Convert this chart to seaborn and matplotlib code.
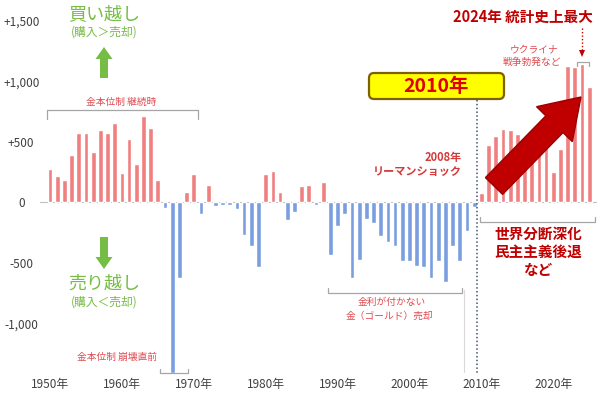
import matplotlib
matplotlib.use("Agg")
import matplotlib.pyplot as plt
import matplotlib.transforms as mtransforms
from matplotlib.lines import Line2D
from matplotlib.patches import FancyArrow, FancyBboxPatch
import seaborn as sns
import pandas as pd
import numpy as np

# net central bank gold purchases (tonnes)
years = list(range(1950, 2026))
tonnes = [280, 215, 182, 394, 578, 578, 421, 595, 578, 659,
          245, 521, 314, 713, 617, 182, -45, -1410, -625, 83,
          235, -93, 144, -27, -25, -20, -55, -267, -363, -537,
          235, 264, 86, -143, -83, 138, 146, -25, 168, -432,
          -198, -96, -625, -474, -137, -170, -275, -327, -363, -482,
          -482, -523, -537, -625, -482, -661, -363, -488, -240, -34,
          79, 474, 548, 609, 598, 562, 390, 380, 650, 600,
          250, 440, 1127, 1120, 1143, 955]
decade_ticks = [1950, 1960, 1970, 1980, 1990, 2000, 2010, 2020]
y_ticks = [-1000, -500, 0, 500, 1000, 1500]
y_labels = ["-1,000", "-500", "0", "+500", "+1,000", "+1,500"]

sns.set_style("white")
plt.rcParams['font.family'] = ['Noto Sans CJK JP', 'DejaVu Sans']

df = pd.DataFrame({"year": years, "tonnes": tonnes})
df["side"] = np.where(df["tonnes"] >= 0, "buy", "sell")

fig = plt.figure(figsize=(6, 3.94), dpi=100)
ax = fig.add_axes([40 / 600, 1 - 375 / 394, 557 / 600, 371 / 394])
sns.barplot(data=df, x="year", y="tonnes", hue="side",
            palette={"buy": "#f07f80", "sell": "#7b9ee0"}, saturation=1,
            dodge=False, width=0.66, legend=False, ax=ax)
ax.axhline(0, color="#bfbfbf", lw=0.8, zorder=0)
ax.set_xlim(-1.39, 76.08)
ax.set_ylim(-1426, 1640)
ax.set_xticks([years.index(y) for y in decade_ticks])
ax.set_xticklabels([f"{y}年" for y in decade_ticks])
ax.set_yticks(y_ticks)
ax.set_yticklabels(y_labels)
ax.tick_params(length=0, labelsize=8.5, labelcolor="#404040")
ax.tick_params(axis="y", pad=13.5)
ax.tick_params(axis="x", pad=2)
for lab in ax.get_yticklabels():
    lab.set_horizontalalignment("center")
ax.set_xlabel("")
ax.set_ylabel("")
sns.despine(ax=ax, left=True, bottom=True)

# pixel coordinates measured from the top-left corner
px = mtransforms.Affine2D().scale(0.01, -0.01).translate(0, 3.94) + fig.dpi_scale_trans

def label(x, y, s, size, color, weight="normal", ha="center"):
    fig.text(x, y, s, transform=px, fontsize=size, color=color,
             fontweight=weight, ha=ha, va="center")

def bracket(x0, x1, y, tick, color="#a6a6a6"):
    fig.add_artist(Line2D([x0, x0, x1, x1], [y + tick, y, y, y + tick],
                          transform=px, color=color, lw=0.9))

green = "#76bd45"
red = "#c00000"
soft_red = "#e04a4f"

# buy / sell legend on the left
label(104, 14, "買い越し", 13, green)
label(104, 32, "(購入＞売却)", 8.5, green)
fig.add_artist(FancyArrow(104, 78, 0, -31, width=8, head_width=17, head_length=12,
                          length_includes_head=True, transform=px, color=green, lw=0))
fig.add_artist(FancyArrow(104, 237, 0, 32, width=8, head_width=17, head_length=12,
                          length_includes_head=True, transform=px, color=green, lw=0))
label(104, 284, "売り越し", 13, green)
label(104, 302, "(購入＜売却)", 8.5, green)

# period brackets
bracket(47, 198, 110, 9)
label(121, 102, "金本位制 継続時", 7, soft_red)
bracket(160, 188, 373, -4)
label(117, 357, "金本位制 崩壊直前", 7, soft_red)
bracket(328, 462, 293, -5)
label(392, 302, "金利が付かない", 7, soft_red)
label(390, 316, "金（ゴールド）売却", 7, soft_red)
fig.add_artist(Line2D([464, 464], [290, 372], transform=px, color="#d9d9d9", lw=0.8))

label(462, 157, "2008年", 8, "#d43a3a", weight="bold", ha="right")
label(462, 171, "リーマンショック", 8, "#d43a3a", weight="bold", ha="right")

# 2010 marker
fig.add_artist(Line2D([477, 477], [100, 374], transform=px, color="#44546a",
                      lw=1.1, ls=(0, (1, 1.5))))
fig.add_artist(FancyBboxPatch((369, 73), 135, 26, boxstyle="round,pad=0,rounding_size=5",
                              transform=px, fc="#ffff00", ec="#7f6000", lw=1.6))
label(436, 86, "2010年", 14, "#e00000", weight="bold")

# recent period
bracket(480, 595, 222, -5)
label(538, 234, "世界分断深化", 10.5, red, weight="bold")
label(538, 252, "民主主義後退", 10.5, red, weight="bold")
label(538, 270, "など", 10.5, red, weight="bold")

label(523, 17, "2024年 統計史上最大", 10.5, red, weight="bold")
fig.add_artist(Line2D([582, 582], [28, 50], transform=px, color=red, lw=1,
                      ls=(0, (1, 1.5))))
fig.add_artist(FancyArrow(582, 49, 0, 8, width=0.1, head_width=6, head_length=7,
                          length_includes_head=True, transform=px, color=red, lw=0))
bracket(577, 589, 62, 4)
label(534, 49, "ウクライナ", 7, soft_red)
label(532, 62, "戦争勃発など", 7, soft_red)

fig.add_artist(FancyArrow(494, 186, 87, -89, width=24, head_width=50, head_length=38,
                          length_includes_head=True, transform=px,
                          fc="#c00000", ec="#9a0000", lw=1))

fig.savefig("out.png", dpi=100)
